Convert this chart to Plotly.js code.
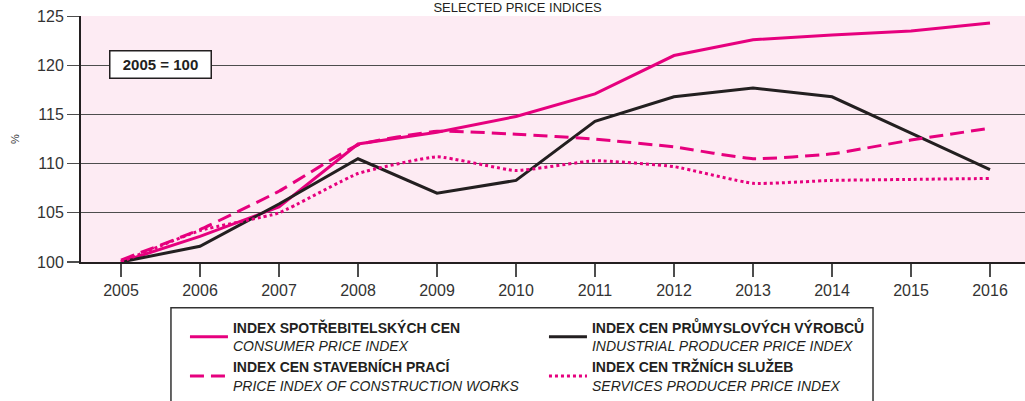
<!DOCTYPE html>
<html>
<head>
<meta charset="utf-8">
<script src="https://cdn.plot.ly/plotly-3.0.1.min.js"></script>
<style>html,body{margin:0;padding:0;background:#fff;}#chart{width:1025px;height:401px;}</style>
</head>
<body>
<div id="chart"></div>
<script>
const years = [2005, 2006, 2007, 2008, 2009, 2010, 2011, 2012, 2013, 2014, 2015, 2016];
const consumerPrice = [100, 102.6, 105.6, 112.0, 113.2, 114.8, 117.1, 121.0, 122.6, 123.1, 123.5, 124.3];
const industrialPrice = [100, 101.6, 105.9, 110.5, 107.0, 108.3, 114.3, 116.8, 117.7, 116.8, 113.1, 109.4];
const constructionPrice = [100.2, 103.3, 107.2, 111.9, 113.3, 113.0, 112.5, 111.7, 110.5, 111.0, 112.4, 113.6];
const servicesPrice = [100, 103.2, 105.0, 109.0, 110.7, 109.3, 110.3, 109.7, 108.0, 108.3, 108.4, 108.5];
const seriesNamesCz = ['INDEX SPOTŘEBITELSKÝCH CEN', 'INDEX CEN PRŮMYSLOVÝCH VÝROBCŮ', 'INDEX CEN STAVEBNÍCH PRACÍ', 'INDEX CEN TRŽNÍCH SLUŽEB'];
const seriesNamesEn = ['CONSUMER PRICE INDEX', 'INDUSTRIAL PRODUCER PRICE INDEX', 'PRICE INDEX OF CONSTRUCTION WORKS', 'SERVICES PRODUCER PRICE INDEX'];
const yTicks = [100, 105, 110, 115, 120, 125];
const chartTitle = 'SELECTED PRICE INDICES';
const baseNote = '2005 = 100';

const PINK = '#e6007e';
const DARK = '#231f20';
const label = i => '<b>' + seriesNamesCz[i] + '</b><br><i>' + seriesNamesEn[i] + '</i>';

const traces = [
  {x: years, y: consumerPrice, name: label(0), mode: 'lines', line: {color: PINK, width: 3}},
  {x: years, y: industrialPrice, name: label(1), mode: 'lines', line: {color: DARK, width: 3}},
  {x: years, y: constructionPrice, name: label(2), mode: 'lines', line: {color: PINK, width: 3, dash: '14px,7px', shape: 'spline', smoothing: 0.4}},
  {x: years, y: servicesPrice, name: label(3), mode: 'lines', line: {color: PINK, width: 3, dash: '3px,3px', shape: 'spline', smoothing: 0.4}}
];

const layout = {
  width: 1025, height: 401,
  margin: {l: 81, r: 0, t: 16, b: 138},
  paper_bgcolor: '#ffffff',
  plot_bgcolor: '#fdebf3',
  font: {family: 'Liberation Sans, Arial, sans-serif', color: '#333333'},
  title: {text: chartTitle, y: 0.982, yanchor: 'middle', x: 0.505, xanchor: 'center', font: {size: 13, color: DARK}},
  showlegend: true,
  legend: {
    orientation: 'h', x: 0.0953, xanchor: 'left', y: -0.2024, yanchor: 'top',
    entrywidth: 292, entrywidthmode: 'pixels', indentation: 14, itemwidth: 38,
    borderwidth: 0, bgcolor: 'rgba(0,0,0,0)',
    font: {size: 14, color: DARK}, valign: 'middle', traceorder: 'normal'
  },
  shapes: [{
    type: 'rect', xref: 'paper', yref: 'paper',
    x0: 0.0953, x1: 0.839, y0: -0.1862, y1: -0.62,
    line: {color: '#333333', width: 1.5}, fillcolor: 'rgba(0,0,0,0)', layer: 'above'
  }],
  xaxis: {
    range: [2004.494, 2016.443], tickvals: years, ticktext: years.map(String),
    showgrid: false, zeroline: false,
    showline: true, linecolor: DARK, linewidth: 2,
    ticks: 'outside', ticklen: 13, tickwidth: 1.3, tickcolor: '#4d4d4d',
    tickfont: {size: 16, color: '#333333'}
  },
  yaxis: {
    range: [100, 125.02], tickvals: yTicks, ticktext: yTicks.map(String),
    showgrid: true, gridcolor: '#4d4d4d', gridwidth: 1.3, zeroline: false,
    showline: true, linecolor: DARK, linewidth: 2,
    ticks: 'outside', ticklen: 12, tickwidth: 1.3, tickcolor: '#4d4d4d',
    tickfont: {size: 16, color: '#333333'},
    title: {text: '%', standoff: 15, font: {size: 11, color: '#333333'}}
  },
  annotations: [{
    text: '<b>' + baseNote + '</b>', xref: 'paper', yref: 'paper',
    x: 0.0837, y: 0.8036, xanchor: 'center', yanchor: 'middle', showarrow: false,
    font: {size: 15, color: DARK}, bgcolor: '#ffffff', bordercolor: DARK, borderwidth: 1.5,
    width: 92, height: 18, borderpad: 4
  }]
};

Plotly.newPlot('chart', traces, layout, {displayModeBar: false, staticPlot: true});
</script>
</body>
</html>
